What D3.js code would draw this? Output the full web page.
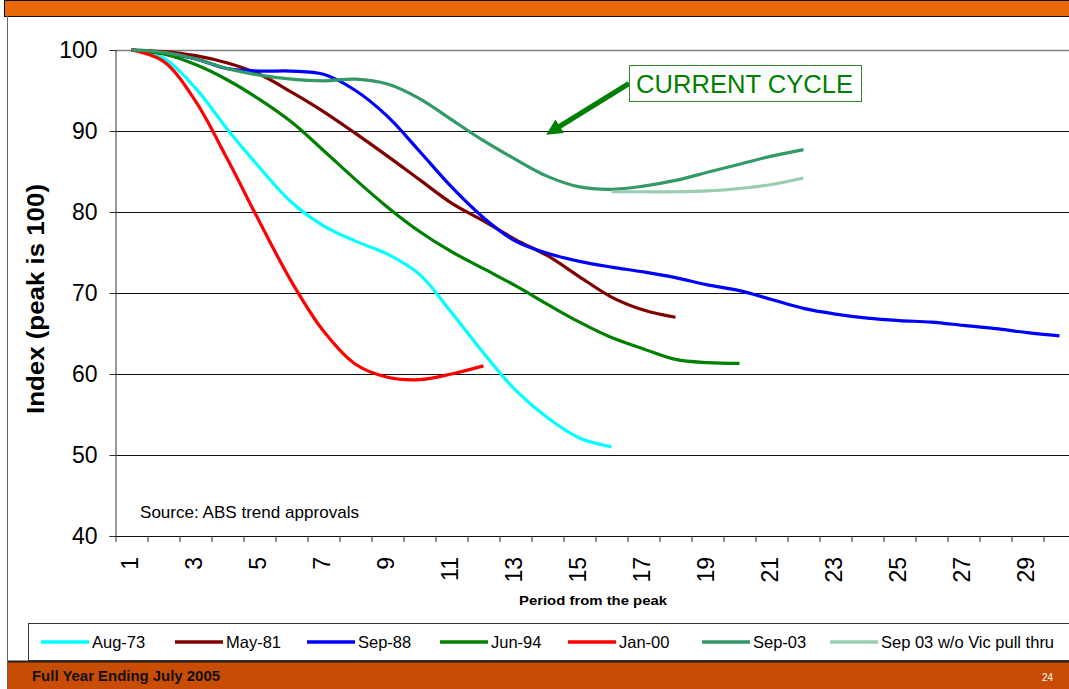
<!DOCTYPE html>
<html>
<head>
<meta charset="utf-8">
<script src="https://cdn.jsdelivr.net/npm/d3@7/dist/d3.min.js"></script>
<style>
  html, body { margin: 0; padding: 0; background: #fff; }
  svg { display: block; font-family: "Liberation Sans", Arial, sans-serif; }
</style>
</head>
<body>
<svg id="chart" width="1069" height="689"></svg>
<script>
// Periods counted from the peak of each building-approvals cycle
const periods = d3.range(1, 31);
const yTicks = [40, 50, 60, 70, 80, 90, 100];

// Index values (peak = 100) per cycle
const aug73 = [100, 99.0, 95.3, 90.2, 85.5, 81.2, 78.3, 76.4, 74.8, 72.3, 67.6, 62.6, 58.0, 54.6, 52.1, 51.0];
const may81 = [100, 99.8, 99.3, 98.4, 97.0, 94.8, 92.4, 89.7, 86.9, 84.0, 81.1, 78.9, 76.6, 74.6, 72.0, 69.5, 67.9, 67.0];
const sep88 = [100, 99.6, 98.9, 97.7, 97.4, 97.4, 97.0, 95.0, 91.8, 87.5, 83.1, 79.3, 76.4, 74.9, 73.9, 73.2,
               72.6, 71.9, 71.0, 70.3, 69.2, 68.1, 67.4, 66.9, 66.6, 66.4, 66.0, 65.6, 65.1, 64.7];
const jun94 = [100, 99.5, 98.2, 96.3, 93.9, 91.1, 87.6, 84.0, 80.6, 77.6, 75.1, 73.0, 70.9, 68.6, 66.4, 64.5,
               63.1, 61.8, 61.4, 61.3];
const jan00 = [100, 98.6, 93.7, 86.5, 78.8, 71.4, 65.3, 61.2, 59.6, 59.3, 60.0, 61.0];
const sep03 = [100, 99.7, 98.9, 97.7, 96.9, 96.4, 96.2, 96.4, 95.8, 94.0, 91.4, 88.8, 86.5, 84.4, 83.1, 82.8,
               83.2, 83.9, 84.9, 85.9, 86.9, 87.7];
// Sep-03 excluding the Victorian pull-through, starting at period 16
const sep03NoVicStart = 16;
const sep03NoVic = [82.5, 82.5, 82.5, 82.6, 82.9, 83.4, 84.2];

const seriesNames = ["Aug-73", "May-81", "Sep-88", "Jun-94", "Jan-00", "Sep-03", "Sep 03 w/o Vic pull thru"];
const seriesColors = ["#00FFFF", "#800000", "#0000FF", "#008000", "#FF0000", "#339966", "#99CCB0"];

const series = [
  { name: seriesNames[0], color: seriesColors[0], start: 1, values: aug73 },
  { name: seriesNames[1], color: seriesColors[1], start: 1, values: may81 },
  { name: seriesNames[2], color: seriesColors[2], start: 1, values: sep88 },
  { name: seriesNames[3], color: seriesColors[3], start: 1, values: jun94 },
  { name: seriesNames[4], color: seriesColors[4], start: 1, values: jan00 },
  { name: seriesNames[5], color: seriesColors[5], start: 1, values: sep03 },
  { name: seriesNames[6], color: seriesColors[6], start: sep03NoVicStart, values: sep03NoVic }
];

const svg = d3.select("#chart");
const W = 1069, H = 689;

// ---- slide frame ----
svg.append("rect").attr("x", 4.5).attr("y", 0.5).attr("width", W).attr("height", 16)
  .attr("fill", "#E8690A").attr("stroke", "#111").attr("stroke-width", 1);
svg.append("line").attr("x1", 7.5).attr("x2", 7.5).attr("y1", 16).attr("y2", H)
  .attr("stroke", "#666").attr("stroke-width", 1);
svg.append("rect").attr("x", 8).attr("y", 662).attr("width", W).attr("height", 27)
  .attr("fill", "#C94C05");
svg.append("line").attr("x1", 8).attr("x2", W).attr("y1", 661.5).attr("y2", 661.5)
  .attr("stroke", "#222").attr("stroke-width", 2);
svg.append("text").attr("x", 32).attr("y", 681).attr("fill", "#111")
  .attr("font-size", 14).attr("font-weight", "bold")
  .attr("textLength", 188).attr("lengthAdjust", "spacingAndGlyphs")
  .text("Full Year Ending July 2005");
svg.append("text").attr("x", 1053).attr("y", 681).attr("fill", "#fff")
  .attr("text-anchor", "end").attr("font-size", 10).text("24");

// ---- plot area ----
const plot = { left: 115.5, top: 50, bottom: 536 };
const band = 32;
const x = d3.scaleBand().domain(periods).range([plot.left, plot.left + band * periods.length]).padding(0);
const y = d3.scaleLinear().domain([40, 100]).range([plot.bottom, plot.top]);
const xc = p => x(p) + x.bandwidth() / 2;

// horizontal gridlines
svg.append("g").selectAll("line").data(yTicks.filter(t => t > 40 && t < 100)).join("line")
  .attr("x1", plot.left).attr("x2", W)
  .attr("y1", d => Math.round(y(d)) + 0.5).attr("y2", d => Math.round(y(d)) + 0.5)
  .attr("stroke", "#111").attr("stroke-width", 1);
// top border of plot
svg.append("line").attr("x1", plot.left).attr("x2", W)
  .attr("y1", y(100) + 0.5).attr("y2", y(100) + 0.5)
  .attr("stroke", "#808080").attr("stroke-width", 1.5);

// y axis
const yAxis = svg.append("g").attr("transform", `translate(${plot.left},0)`)
  .call(d3.axisLeft(y).tickValues(yTicks).tickSize(6).tickPadding(12).tickFormat(d3.format("d")));
yAxis.select(".domain").attr("stroke", "#333");
yAxis.selectAll(".tick line").attr("stroke", "#333");
yAxis.selectAll("text").attr("font-size", 23).attr("fill", "#000")
  .attr("font-family", "Liberation Sans, Arial, sans-serif");

// x axis: ticks on category boundaries, labels on odd periods
const xAxis = svg.append("g").attr("transform", `translate(0,${plot.bottom})`);
xAxis.append("line").attr("x1", plot.left).attr("x2", W).attr("y1", 0.5).attr("y2", 0.5)
  .attr("stroke", "#111").attr("stroke-width", 1);
xAxis.selectAll("line.tk").data(periods).join("line").attr("class", "tk")
  .attr("x1", d => x(d) + 0.5).attr("x2", d => x(d) + 0.5)
  .attr("y1", 0).attr("y2", 6).attr("stroke", "#333");
xAxis.selectAll("text").data(periods.filter(p => p % 2 === 1)).join("text")
  .attr("transform", d => `translate(${xc(d) + 6.5},21) rotate(-90)`)
  .attr("text-anchor", "end").attr("font-size", 23).attr("fill", "#000")
  .text(d => d);

// axis titles
svg.append("text").attr("transform", `translate(44,${(plot.top + plot.bottom) / 2 + 6}) rotate(-90)`)
  .attr("text-anchor", "middle").attr("font-size", 24.5).attr("font-weight", "bold")
  .attr("textLength", 230).attr("lengthAdjust", "spacingAndGlyphs")
  .text("Index (peak is 100)");
svg.append("text").attr("x", 593).attr("y", 605).attr("text-anchor", "middle")
  .attr("font-size", 12.5).attr("font-weight", "bold")
  .attr("textLength", 148).attr("lengthAdjust", "spacingAndGlyphs")
  .text("Period from the peak");

svg.append("text").attr("x", 140).attr("y", 518).attr("font-size", 17)
  .attr("textLength", 219).attr("lengthAdjust", "spacingAndGlyphs")
  .text("Source: ABS trend approvals");

// ---- series lines ----
const line = d3.line()
  .x(d => xc(d.p)).y(d => y(d.v))
  .curve(d3.curveCatmullRom.alpha(0.5));

svg.append("g").selectAll("path").data(series).join("path")
  .attr("d", s => line(s.values.map((v, i) => ({ p: s.start + i, v }))))
  .attr("fill", "none").attr("stroke", s => s.color).attr("stroke-width", 3.2)
  .attr("stroke-linejoin", "round").attr("stroke-linecap", "butt");

// ---- annotation ----
const ann = svg.append("g");
ann.append("defs").append("marker").attr("id", "arrowHead")
  .attr("viewBox", "0 0 10 10").attr("refX", 2).attr("refY", 5)
  .attr("markerWidth", 3.4).attr("markerHeight", 3.2).attr("orient", "auto")
  .append("path").attr("d", "M0,0 L10,5 L0,10 Z").attr("fill", "#008000");
ann.append("line").attr("x1", 629).attr("y1", 83.5).attr("x2", 557).attr("y2", 128)
  .attr("stroke", "#008000").attr("stroke-width", 5).attr("marker-end", "url(#arrowHead)");
ann.append("rect").attr("x", 629.5).attr("y", 65.5).attr("width", 232).attr("height", 36)
  .attr("fill", "#fff").attr("stroke", "#2E8B2E").attr("stroke-width", 1);
ann.append("text").attr("x", 636).attr("y", 93).attr("font-size", 25.5).attr("fill", "#008000")
  .attr("textLength", 217).attr("lengthAdjust", "spacingAndGlyphs")
  .text("CURRENT CYCLE");

// ---- legend ----
const legend = svg.append("g");
legend.append("rect").attr("x", 28.5).attr("y", 623.5).attr("width", W).attr("height", 37)
  .attr("fill", "#fff").attr("stroke", "#333").attr("stroke-width", 1);
const legendX = [41, 175, 307, 440, 568, 702, 830];
const items = legend.selectAll("g.item").data(series).join("g").attr("class", "item")
  .attr("transform", (d, i) => `translate(${legendX[i]},642)`);
items.append("line").attr("x1", 0).attr("x2", 48).attr("y1", 0).attr("y2", 0)
  .attr("stroke", d => d.color).attr("stroke-width", 3.5);
items.append("text").attr("x", 51).attr("y", 5.5).attr("font-size", 16.5).text(d => d.name);
</script>
</body>
</html>
